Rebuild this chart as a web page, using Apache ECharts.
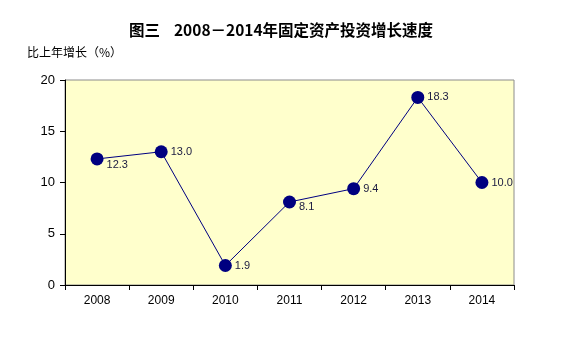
<!DOCTYPE html>
<html>
<head>
<meta charset="utf-8">
<script src="https://cdn.jsdelivr.net/npm/echarts@6/dist/echarts.min.js"></script>
<style>
  html, body { margin: 0; padding: 0; background: #fff; }
  #chart { width: 562px; height: 337px; }
</style>
</head>
<body>
<div id="chart"></div>
<script>
// Fixed-asset investment growth, 2008-2014
const years = ['2008', '2009', '2010', '2011', '2012', '2013', '2014'];
const growth = [12.3, 13.0, 1.9, 8.1, 9.4, 18.3, 10.0];
const yTicks = [0, 5, 10, 15, 20];

const chart = echarts.init(document.getElementById('chart'), null, { renderer: 'canvas' });

// labels that sit a little below the marker
const lowered = { '2008': 6, '2011': 5 };

chart.setOption({
  animation: false,
  backgroundColor: '#ffffff',
  title: {
    text: '图三    2008－2014年固定资产投资增长速度',
    left: 'center',
    top: 17,
    textStyle: {
      fontFamily: 'Noto Sans CJK SC',
      fontWeight: 'bold',
      fontSize: 15.5,
      color: '#000'
    }
  },
  grid: {
    left: 65, right: 48, top: 80, bottom: 52,
    show: true,
    backgroundColor: '#FFFFCC',
    borderColor: '#8c8c8c',
    borderWidth: 1
  },
  xAxis: {
    type: 'category',
    data: years,
    boundaryGap: true,
    axisLine: { lineStyle: { color: '#000', width: 1 } },
    axisTick: { show: true, length: 5, inside: false, lineStyle: { color: '#000' } },
    axisLabel: { color: '#000', fontFamily: 'Liberation Sans, Arial', fontSize: 12, margin: 10 },
    splitLine: { show: false }
  },
  yAxis: {
    type: 'value',
    min: yTicks[0],
    max: yTicks[yTicks.length - 1],
    interval: 5,
    name: '比上年增长（%）',
    nameLocation: 'end',
    nameGap: 22,
    nameTextStyle: {
      fontFamily: 'Noto Sans CJK SC',
      fontSize: 12,
      color: '#000',
      align: 'left',
      padding: [0, 0, 0, -38]
    },
    axisLine: { show: true, lineStyle: { color: '#000', width: 1 } },
    axisTick: { show: true, length: 5, lineStyle: { color: '#000' } },
    axisLabel: { color: '#000', fontFamily: 'Liberation Sans, Arial', fontSize: 13, margin: 10 },
    splitLine: { show: false }
  },
  series: [{
    type: 'line',
    data: growth.map((v, i) => ({
      value: v,
      label: { offset: [0, lowered[years[i]] || 0] }
    })),
    symbol: 'circle',
    symbolSize: 13,
    itemStyle: { color: '#000080' },
    lineStyle: { color: '#000080', width: 1 },
    label: {
      show: true,
      position: 'right',
      distance: 3,
      color: '#1a1a40',
      fontFamily: 'Liberation Sans, Arial',
      fontSize: 11,
      formatter: p => p.value.toFixed(1)
    }
  }]
});
</script>
</body>
</html>
